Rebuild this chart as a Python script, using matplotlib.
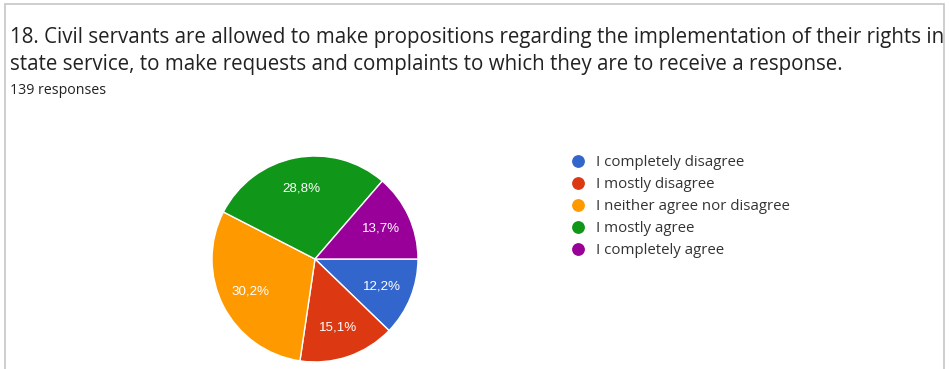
import matplotlib
matplotlib.use('Agg')
import matplotlib.pyplot as plt
from matplotlib.lines import Line2D
from matplotlib.patches import Rectangle

# Survey answers (out of 139 responses)
labels = ['I completely disagree', 'I mostly disagree',
          'I neither agree nor disagree', 'I mostly agree',
          'I completely agree']
counts = [17, 21, 42, 40, 19]
colors = ['#3366cc', '#dc3912', '#ff9900', '#109618', '#990099']

title = ('18. Civil servants are allowed to make propositions regarding the '
         'implementation of their rights in\nstate service, to make requests '
         'and complaints to which they are to receive a response.')
subtitle = '139 responses'

W, H = 949, 369
fig = plt.figure(figsize=(W / 100, H / 100), dpi=100)
fig.patch.set_facecolor('white')

# card outline
fig.add_artist(Rectangle((5 / W, -0.1), 939 / W, 1.1 - 4 / H,
                         transform=fig.transFigure, fill=False,
                         edgecolor='#c6c6c6', linewidth=1.2))

fig.text(10 / W, 1 - 27 / H, title, fontsize=14.8, family='Open Sans',
         color='#222222', va='top', ha='left', linespacing=1.36)
fig.text(10 / W, 1 - 83 / H, subtitle, fontsize=10.2, family='Open Sans',
         color='#222222', va='top', ha='left')

# pie
cx, cy, r = 315, 259, 104
ax = fig.add_axes([(cx - r) / W, (H - cy - r) / H, 2 * r / W, 2 * r / H])
wedges, _, autotexts = ax.pie(
    counts, colors=colors, startangle=0, counterclock=False,
    autopct=lambda p: f'{p:.1f}%'.replace('.', ','), pctdistance=0.7,
    wedgeprops=dict(edgecolor='white', linewidth=1),
    textprops=dict(color='white', fontsize=9.6, family='Liberation Sans'))
ax.set_xlim(-1.01, 1.01)
ax.set_ylim(-1.01, 1.01)
ax.set_aspect('equal')
ax.axis('off')

# legend
handles = [Line2D([], [], marker='o', linestyle='', markersize=8.2,
                  markerfacecolor=c, markeredgecolor=c) for c in colors]
fig.legend(handles, labels, loc='upper left',
           bbox_to_anchor=(570 / W, 1 - 155 / H), frameon=False,
           prop=dict(family='Open Sans', size=10.8), labelcolor='#333333',
           handlelength=1.0, handletextpad=0.75, labelspacing=0.47,
           borderpad=0, borderaxespad=0)

fig.savefig('out.png', dpi=100, facecolor='white')
